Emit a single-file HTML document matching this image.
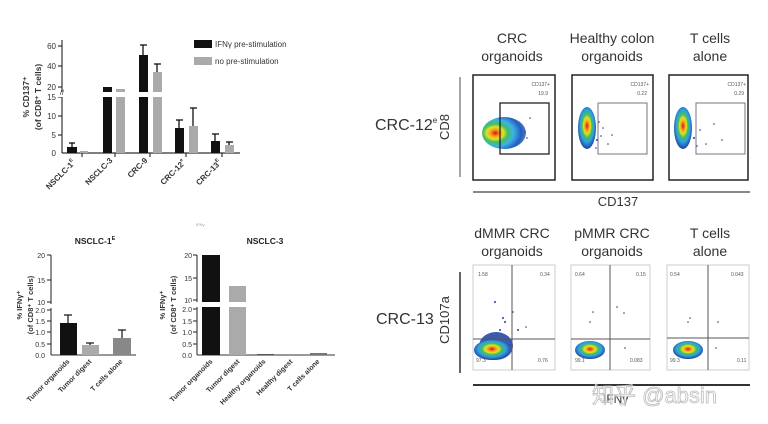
<!DOCTYPE html>
<html><head><meta charset="utf-8"><style>
html,body{margin:0;padding:0;background:#fff;}
svg{display:block;font-family:"Liberation Sans","Noto Sans CJK SC",sans-serif;}
</style></head><body>
<svg width="768" height="424" viewBox="0 0 768 424" xmlns="http://www.w3.org/2000/svg">
<defs>
<radialGradient id="heat" cx="0.3" cy="0.5" r="0.7">
<stop offset="0" stop-color="#e01010"/><stop offset="0.15" stop-color="#f0a020"/><stop offset="0.27" stop-color="#e8e020"/><stop offset="0.4" stop-color="#40c060"/><stop offset="0.6" stop-color="#40b0e8"/><stop offset="0.85" stop-color="#2060c0"/><stop offset="1" stop-color="#2040a0" stop-opacity="0.7"/>
</radialGradient>
<radialGradient id="heat2" cx="0.5" cy="0.45" r="0.55">
<stop offset="0" stop-color="#e01010"/><stop offset="0.2" stop-color="#f0a020"/><stop offset="0.35" stop-color="#e8e020"/><stop offset="0.5" stop-color="#40c060"/><stop offset="0.7" stop-color="#30a0e0"/><stop offset="1" stop-color="#2040a0"/>
</radialGradient>
</defs>
<rect width="768" height="424" fill="#fff"/>

<!-- Top-left bar chart -->
<g stroke="#333" stroke-width="1.2" fill="none">
<line x1="62" y1="40" x2="62" y2="153"/><line x1="62" y1="153" x2="240" y2="153"/>
<line x1="58" y1="46" x2="62" y2="46"/><line x1="58" y1="66" x2="62" y2="66"/><line x1="58" y1="87" x2="62" y2="87"/>
<line x1="58" y1="97" x2="62" y2="97"/><line x1="58" y1="116" x2="62" y2="116"/><line x1="58" y1="135" x2="62" y2="135"/>
<line x1="82" y1="153" x2="82" y2="157"/><line x1="115" y1="153" x2="115" y2="157"/><line x1="150" y1="153" x2="150" y2="157"/><line x1="186" y1="153" x2="186" y2="157"/><line x1="222" y1="153" x2="222" y2="157"/>
</g>
<g font-size="8" fill="#333" text-anchor="end">
<text x="56" y="49">60</text><text x="56" y="69">40</text><text x="56" y="90">20</text><text x="56" y="100">15</text><text x="56" y="119">10</text><text x="56" y="138">5</text><text x="56" y="156">0</text>
</g>
<g fill="#111">
<rect x="67" y="147" width="10" height="6"/><rect x="103" y="87" width="9" height="66"/><rect x="139" y="55" width="9" height="98"/><rect x="175" y="128" width="9" height="25"/><rect x="211" y="141" width="9" height="12"/>
</g>
<g fill="#aaa">
<rect x="80" y="151" width="8" height="2"/><rect x="116" y="89" width="9" height="64"/><rect x="153" y="72" width="9" height="81"/><rect x="189" y="126" width="9" height="27"/><rect x="225" y="145" width="9" height="8"/>
</g>
<g stroke="#111" stroke-width="1.3">
<line x1="72" y1="147" x2="72" y2="143"/><line x1="69" y1="143" x2="75" y2="143"/>
<line x1="143" y1="55" x2="143" y2="45"/><line x1="140" y1="45" x2="147" y2="45"/>
<line x1="157" y1="72" x2="157" y2="64"/><line x1="154" y1="64" x2="161" y2="64"/>
<line x1="179" y1="128" x2="179" y2="120"/><line x1="176" y1="120" x2="183" y2="120"/>
<line x1="193" y1="126" x2="193" y2="108"/><line x1="190" y1="108" x2="197" y2="108"/>
<line x1="215" y1="141" x2="215" y2="134"/><line x1="212" y1="134" x2="219" y2="134"/>
<line x1="229" y1="145" x2="229" y2="142"/><line x1="226" y1="142" x2="233" y2="142"/>
</g>
<rect x="55" y="92" width="185" height="5" fill="#fff"/>
<text x="60" y="95" font-size="7" fill="#333">//</text>
<g transform="rotate(-90)" font-size="8.5" font-weight="bold" fill="#333" text-anchor="middle">
<text x="-97" y="29">% CD137⁺</text><text x="-97" y="41">(of  CD8⁺ T cells)</text>
</g>
<rect x="194" y="40" width="18" height="8" fill="#111"/><text x="215" y="47" font-size="8" fill="#333">IFNγ pre-stimulation</text>
<rect x="194" y="57" width="18" height="8" fill="#aaa"/><text x="215" y="64" font-size="8" fill="#333">no pre-stimulation</text>
<g font-size="8" font-weight="bold" fill="#333" text-anchor="end">
<text transform="translate(76,163) rotate(-45)">NSCLC-1<tspan font-size="5" dy="-4">E</tspan></text>
<text transform="translate(113,161) rotate(-45)">NSCLC-3</text>
<text transform="translate(148,161) rotate(-45)">CRC-9</text>
<text transform="translate(186,163) rotate(-45)">CRC-12<tspan font-size="5" dy="-4">e</tspan></text>
<text transform="translate(222,163) rotate(-45)">CRC-13<tspan font-size="5" dy="-4">E</tspan></text>
</g>

<!-- Bottom-left chart 1 -->
<text x="95" y="244" font-size="8.5" font-weight="bold" fill="#222" text-anchor="middle">NSCLC-1<tspan font-size="5.5" dy="-4">E</tspan></text>
<g stroke="#333" stroke-width="1.1">
<line x1="51" y1="255" x2="51" y2="355"/><line x1="51" y1="355" x2="136" y2="355"/>
<line x1="47" y1="255" x2="51" y2="255"/><line x1="47" y1="280" x2="51" y2="280"/><line x1="47" y1="302" x2="51" y2="302"/>
<line x1="47" y1="310" x2="51" y2="310"/><line x1="47" y1="321" x2="51" y2="321"/><line x1="47" y1="332" x2="51" y2="332"/><line x1="47" y1="344" x2="51" y2="344"/>
</g>
<rect x="44" y="304" width="10" height="4" fill="#fff"/>
<g font-size="7" fill="#333" text-anchor="end">
<text x="45" y="258">20</text><text x="45" y="283">15</text><text x="45" y="305">10</text><text x="45" y="313">2.0</text><text x="45" y="324">1.5</text><text x="45" y="335">1.0</text><text x="45" y="347">0.5</text><text x="45" y="358">0.0</text>
</g>
<rect x="60" y="323" width="17" height="32" fill="#111"/><rect x="82" y="345" width="17" height="10" fill="#aaa"/><rect x="113" y="338" width="18" height="17" fill="#888"/>
<g stroke="#111" stroke-width="1.2">
<line x1="68" y1="323" x2="68" y2="315"/><line x1="64" y1="315" x2="72" y2="315"/>
<line x1="90" y1="345" x2="90" y2="343"/><line x1="86" y1="343" x2="94" y2="343"/>
<line x1="122" y1="338" x2="122" y2="330"/><line x1="118" y1="330" x2="126" y2="330"/>
</g>
<g transform="rotate(-90)" font-size="7.5" font-weight="bold" fill="#333" text-anchor="middle">
<text x="-305" y="22">% IFNγ⁺</text><text x="-305" y="33">(of CD8⁺ T cells)</text>
</g>
<g font-size="7" font-weight="bold" fill="#333" text-anchor="end">
<text transform="translate(70,362) rotate(-45)">Tumor organoids</text>
<text transform="translate(92,362) rotate(-45)">Tumor digest</text>
<text transform="translate(123,362) rotate(-45)">T cells alone</text>
</g>

<!-- Bottom-left chart 2 -->
<text x="196" y="226" font-size="4" fill="#999">IFNγ</text>
<text x="265" y="244" font-size="8.5" font-weight="bold" fill="#222" text-anchor="middle">NSCLC-3</text>
<g stroke="#333" stroke-width="1.1">
<line x1="197" y1="255" x2="197" y2="355"/><line x1="197" y1="355" x2="335" y2="355"/>
<line x1="193" y1="255" x2="197" y2="255"/><line x1="193" y1="278" x2="197" y2="278"/><line x1="193" y1="300" x2="197" y2="300"/>
<line x1="193" y1="309" x2="197" y2="309"/><line x1="193" y1="321" x2="197" y2="321"/><line x1="193" y1="332" x2="197" y2="332"/><line x1="193" y1="344" x2="197" y2="344"/>
</g>
<g font-size="7" fill="#333" text-anchor="end">
<text x="192" y="258">20</text><text x="192" y="281">15</text><text x="192" y="303">10</text><text x="192" y="312">2.0</text><text x="192" y="324">1.5</text><text x="192" y="335">1.0</text><text x="192" y="347">0.5</text><text x="192" y="358">0.0</text>
</g>
<rect x="202" y="255" width="18" height="100" fill="#111"/><rect x="229" y="286" width="17" height="69" fill="#aaa"/>
<rect x="257" y="354" width="17" height="1" fill="#555"/><rect x="310" y="353" width="17" height="2" fill="#777"/>
<rect x="190" y="302" width="60" height="5" fill="#fff"/>
<g transform="rotate(-90)" font-size="7.5" font-weight="bold" fill="#333" text-anchor="middle">
<text x="-305" y="165">% IFNγ⁺</text><text x="-305" y="176">(of CD8⁺ T cells)</text>
</g>
<g font-size="7" font-weight="bold" fill="#333" text-anchor="end">
<text transform="translate(213,362) rotate(-45)">Tumor organoids</text>
<text transform="translate(240,362) rotate(-45)">Tumor digest</text>
<text transform="translate(266,362) rotate(-45)">Healthy organoids</text>
<text transform="translate(293,362) rotate(-45)">Healthy digest</text>
<text transform="translate(320,362) rotate(-45)">T cells alone</text>
</g>

<!-- Top-right flow -->
<g font-size="14" fill="#333" text-anchor="middle">
<text x="512" y="43">CRC</text><text x="512" y="61">organoids</text>
<text x="612" y="43">Healthy colon</text><text x="612" y="61">organoids</text>
<text x="710" y="43">T cells</text><text x="710" y="61">alone</text>
</g>
<text x="375" y="130" font-size="16" fill="#333">CRC-12<tspan font-size="8" dy="-7">e</tspan></text>
<line x1="460" y1="77" x2="460" y2="177" stroke="#888" stroke-width="1.5"/>
<text transform="translate(449,127) rotate(-90)" font-size="13" fill="#333" text-anchor="middle">CD8</text>
<ellipse cx="504" cy="133" rx="22" ry="16" fill="url(#heat)"/>
<ellipse cx="587" cy="128" rx="9" ry="21" fill="url(#heat2)"/>
<ellipse cx="683" cy="128" rx="9" ry="21" fill="url(#heat2)"/>
<g fill="#2040a0">
<circle cx="597" cy="140" r="1"/><circle cx="603" cy="128" r="0.8"/><circle cx="608" cy="144" r="0.8"/><circle cx="612" cy="135" r="0.8"/><circle cx="599" cy="122" r="0.8"/><circle cx="596" cy="148" r="0.8"/><circle cx="601" cy="136" r="0.8"/>
<circle cx="694" cy="138" r="1"/><circle cx="700" cy="130" r="0.8"/><circle cx="706" cy="144" r="0.8"/><circle cx="714" cy="124" r="0.8"/><circle cx="722" cy="140" r="0.8"/><circle cx="697" cy="146" r="0.8"/>
<circle cx="530" cy="118" r="0.8"/><circle cx="527" cy="138" r="0.8"/><circle cx="525" cy="132" r="0.8"/>
</g>
<g fill="none">
<rect x="473" y="75" width="82" height="105" stroke="#222" stroke-width="1.5"/>
<rect x="572" y="75" width="81" height="105" stroke="#222" stroke-width="1.5"/>
<rect x="669" y="75" width="79" height="105" stroke="#222" stroke-width="1.5"/>
<rect x="500" y="103" width="49" height="51" stroke="#222" stroke-width="1.3"/>
<rect x="598" y="103" width="49" height="51" stroke="#777" stroke-width="1"/>
<rect x="696" y="103" width="49" height="51" stroke="#777" stroke-width="1"/>
</g>
<g font-size="5" fill="#555" text-anchor="end">
<text x="550" y="86">CD137+</text><text x="548" y="95">19.9</text>
<text x="649" y="86">CD137+</text><text x="647" y="95">0.22</text>
<text x="746" y="86">CD137+</text><text x="744" y="95">0.29</text>
</g>
<line x1="473" y1="192" x2="750" y2="192" stroke="#888" stroke-width="2"/>
<text x="618" y="206" font-size="13" fill="#333" text-anchor="middle">CD137</text>

<!-- Bottom-right flow -->
<g font-size="14" fill="#333" text-anchor="middle">
<text x="512" y="238">dMMR CRC</text><text x="512" y="256">organoids</text>
<text x="612" y="238">pMMR CRC</text><text x="612" y="256">organoids</text>
<text x="710" y="238">T cells</text><text x="710" y="256">alone</text>
</g>
<text x="376" y="324" font-size="16" fill="#333">CRC-13</text>
<line x1="460" y1="272" x2="460" y2="373" stroke="#333" stroke-width="1.5"/>
<text transform="translate(449,320) rotate(-90)" font-size="13" fill="#333" text-anchor="middle">CD107a</text>
<g fill="none" stroke="#ccc" stroke-width="1">
<rect x="473" y="265" width="82" height="105"/><rect x="571" y="265" width="79" height="105"/><rect x="667" y="265" width="82" height="105"/>
</g>
<ellipse cx="496" cy="346" rx="17" ry="14" fill="#2848a8" opacity="0.9"/>
<ellipse cx="492" cy="350" rx="18" ry="10" fill="url(#heat2)"/>
<ellipse cx="590" cy="350" rx="15" ry="9" fill="url(#heat2)"/>
<ellipse cx="688" cy="350" rx="15" ry="9" fill="url(#heat2)"/>
<g fill="#2040a0">
<circle cx="495" cy="302" r="1"/><circle cx="505" cy="322" r="1"/><circle cx="518" cy="330" r="1"/><circle cx="526" cy="327" r="0.8"/><circle cx="510" cy="345" r="0.8"/><circle cx="500" cy="330" r="1"/><circle cx="503" cy="318" r="1"/><circle cx="513" cy="312" r="0.8"/>
<circle cx="590" cy="322" r="0.8"/><circle cx="617" cy="307" r="0.8"/><circle cx="624" cy="313" r="0.8"/><circle cx="625" cy="348" r="0.8"/><circle cx="593" cy="312" r="0.8"/>
<circle cx="688" cy="322" r="0.8"/><circle cx="718" cy="322" r="0.8"/><circle cx="716" cy="348" r="0.8"/><circle cx="690" cy="318" r="0.8"/>
</g>
<g stroke="#555" stroke-width="1">
<line x1="512" y1="265" x2="512" y2="370"/><line x1="473" y1="339" x2="555" y2="339"/>
<line x1="610" y1="265" x2="610" y2="370"/><line x1="571" y1="339" x2="650" y2="339"/>
<line x1="708" y1="265" x2="708" y2="370"/><line x1="667" y1="338" x2="749" y2="338"/>
</g>
<g font-size="5" fill="#555">
<text x="478" y="276">1.58</text><text x="540" y="276">0.34</text><text x="476" y="362">97.3</text><text x="538" y="362">0.76</text>
<text x="575" y="276">0.64</text><text x="636" y="276">0.15</text><text x="575" y="362">99.1</text><text x="630" y="362">0.083</text>
<text x="670" y="276">0.54</text><text x="731" y="276">0.043</text><text x="670" y="362">99.3</text><text x="737" y="362">0.11</text>
</g>
<line x1="473" y1="385" x2="750" y2="385" stroke="#333" stroke-width="2"/>
<text x="603" y="403" font-size="12" fill="#333">IFNγ</text>
<text x="592" y="403" font-size="22" fill="#fff" fill-opacity="0.6" stroke="#bbb" stroke-width="0.8">知乎 @absin</text>
</svg>
</body></html>
